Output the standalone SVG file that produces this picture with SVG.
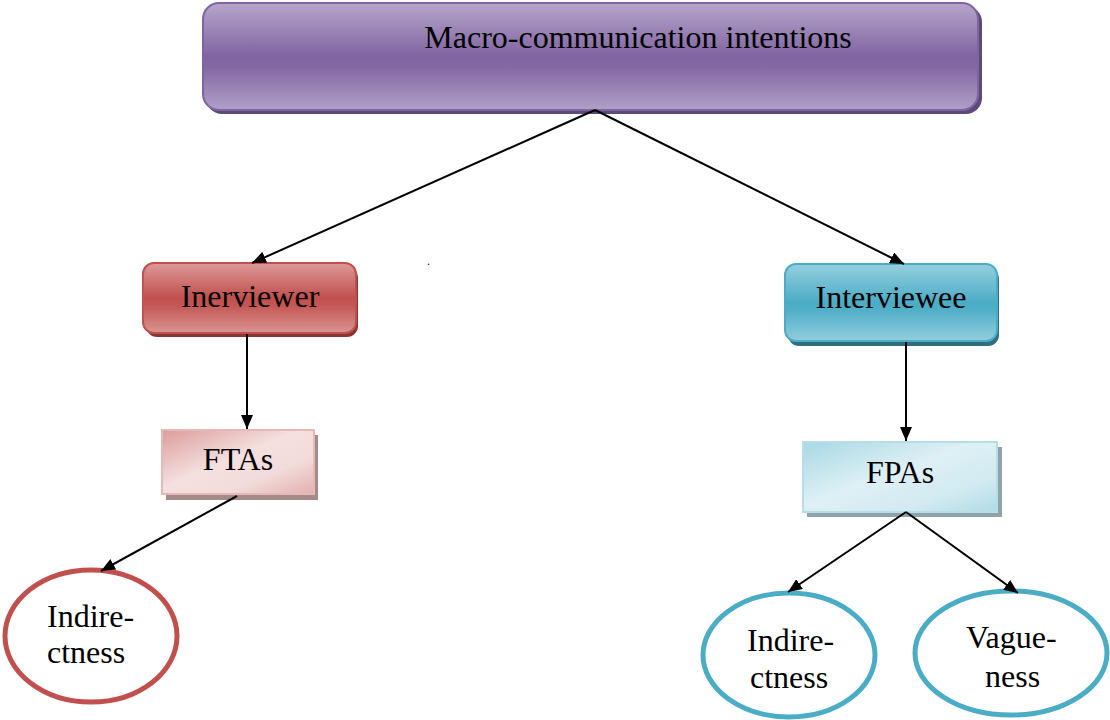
<svg xmlns="http://www.w3.org/2000/svg" width="1110" height="720" viewBox="0 0 1110 720">
  <defs>
    <linearGradient id="gPurple" x1="0" y1="0" x2="0" y2="1">
      <stop offset="0" stop-color="#b6a6ca"/>
      <stop offset="0.5" stop-color="#8064a2"/>
      <stop offset="0.6" stop-color="#8468a5"/>
      <stop offset="1" stop-color="#b0a0c6"/>
    </linearGradient>
    <linearGradient id="gRed" x1="0" y1="0" x2="0" y2="1">
      <stop offset="0" stop-color="#dc9a98"/>
      <stop offset="0.5" stop-color="#c0504d"/>
      <stop offset="0.6" stop-color="#c45754"/>
      <stop offset="1" stop-color="#da9492"/>
    </linearGradient>
    <linearGradient id="gBlue" x1="0" y1="0" x2="0" y2="1">
      <stop offset="0" stop-color="#95cfdf"/>
      <stop offset="0.5" stop-color="#4bacc6"/>
      <stop offset="0.6" stop-color="#51afc8"/>
      <stop offset="1" stop-color="#93cddd"/>
    </linearGradient>
    <linearGradient id="gPink" x1="0" y1="0" x2="1" y2="1">
      <stop offset="0" stop-color="#dc9c9a"/>
      <stop offset="0.45" stop-color="#f4e0df"/>
      <stop offset="0.7" stop-color="#f2dcdb"/>
      <stop offset="1" stop-color="#e2b0af"/>
    </linearGradient>
    <linearGradient id="gIce" x1="0" y1="0" x2="1" y2="1">
      <stop offset="0" stop-color="#a8d8e4"/>
      <stop offset="0.45" stop-color="#def0f5"/>
      <stop offset="0.75" stop-color="#d2eaf1"/>
      <stop offset="1" stop-color="#b0dbe6"/>
    </linearGradient>
    <marker id="arrow" viewBox="0 0 14 12" refX="14" refY="6" markerWidth="14" markerHeight="12" markerUnits="userSpaceOnUse" orient="auto">
      <path d="M0,0 L14,6 L0,12 Z" fill="#000"/>
    </marker>
  </defs>
  <style>
    .lbl { font-family: "Liberation Serif", "Times New Roman", serif; font-size: 32px; fill: #000; }
    .mid { text-anchor: middle; }
    .edge { stroke: #000; stroke-width: 2; fill: none; marker-end: url(#arrow); }
  </style>

  <rect width="1110" height="720" fill="#fff"/>

  <g id="macro">
    <rect x="206" y="6" width="776" height="108" rx="16" fill="#5c4a78"/>
    <rect x="203" y="3" width="775" height="107" rx="16" fill="url(#gPurple)" stroke="#8064a2" stroke-width="2"/>
    <text class="lbl mid" x="638" y="48">Macro-communication intentions</text>
  </g>

  <g id="interviewer">
    <rect x="146" y="267" width="212" height="70" rx="11" fill="#8a3533"/>
    <rect x="143" y="263" width="213" height="70" rx="11" fill="url(#gRed)" stroke="#c0504d" stroke-width="2"/>
    <text class="lbl mid" x="250" y="307">Inerviewer</text>
  </g>

  <g id="interviewee">
    <rect x="788" y="268" width="211" height="78" rx="11" fill="#2f6f80"/>
    <rect x="785" y="264" width="212" height="77" rx="11" fill="url(#gBlue)" stroke="#4bacc6" stroke-width="2"/>
    <text class="lbl mid" x="891" y="308">Interviewee</text>
  </g>

  <g id="ftas">
    <rect x="166" y="435" width="152" height="65" fill="#a58a8a"/>
    <rect x="162" y="430" width="152" height="64" fill="url(#gPink)" stroke="#e6b9b8" stroke-width="2"/>
    <text class="lbl mid" x="238" y="470">FTAs</text>
  </g>

  <g id="fpas">
    <rect x="807" y="447" width="195" height="70" fill="#8fa3a8"/>
    <rect x="803" y="442" width="194" height="70" fill="url(#gIce)" stroke="#b7dee8" stroke-width="2"/>
    <text class="lbl mid" x="900" y="483">FPAs</text>
  </g>

  <g id="indirectness-left">
    <ellipse cx="91" cy="636" rx="86" ry="66" fill="#fff" stroke="#c0504d" stroke-width="5"/>
    <text class="lbl" x="47" y="627">Indire-</text>
    <text class="lbl" x="47" y="663">ctness</text>
  </g>

  <g id="indirectness-right">
    <ellipse cx="789" cy="655" rx="86" ry="62" fill="#fff" stroke="#4bacc6" stroke-width="5"/>
    <text class="lbl" x="747" y="651">Indire-</text>
    <text class="lbl" x="750" y="688">ctness</text>
  </g>

  <g id="vagueness">
    <ellipse cx="1011" cy="653" rx="96" ry="62" fill="#fff" stroke="#4bacc6" stroke-width="5"/>
    <text class="lbl" x="966" y="648">Vague-</text>
    <text class="lbl" x="985" y="687">ness</text>
  </g>

  <g id="connectors">
    <line class="edge" x1="595" y1="110" x2="252" y2="263"/>
    <line class="edge" x1="595" y1="110" x2="904" y2="264"/>
    <line class="edge" x1="247" y1="334" x2="247" y2="429"/>
    <line class="edge" x1="906" y1="342" x2="906" y2="441"/>
    <line class="edge" x1="237" y1="496" x2="101" y2="571"/>
    <line class="edge" x1="906" y1="512" x2="788" y2="592"/>
    <line class="edge" x1="906" y1="512" x2="1018" y2="593"/>
  </g>

  <text class="lbl" x="427" y="265" style="font-size:12px">.</text>
</svg>
